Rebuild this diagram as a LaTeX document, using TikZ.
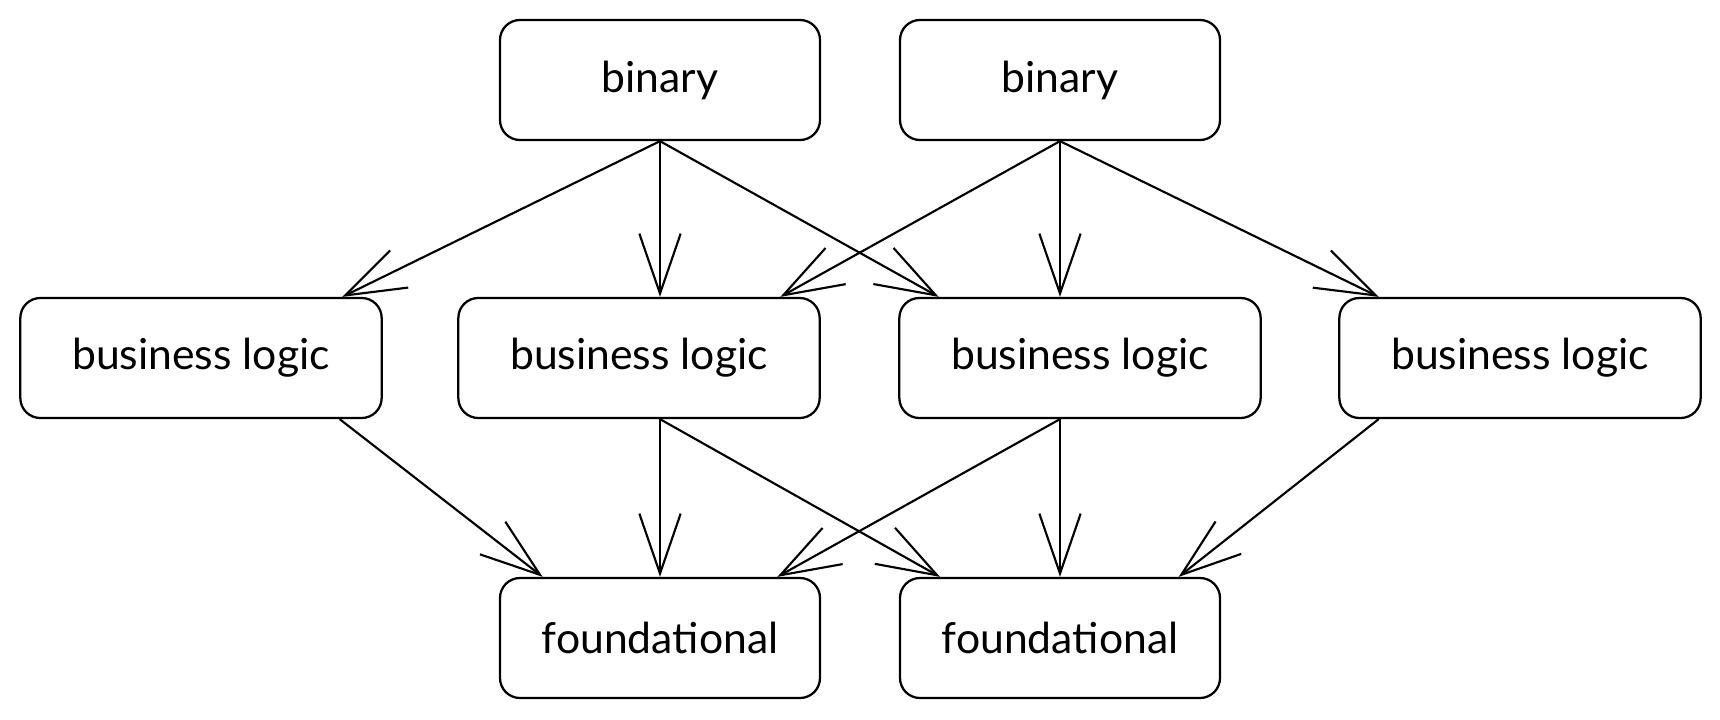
\documentclass[tikz,border=0pt]{standalone}
\usepackage{fontspec}
\setmainfont{Lato}
\usetikzlibrary{arrows.meta}

\tikzset{
  blk/.style={draw, line width=1.7pt, rounded corners=15pt, minimum width=240pt,
    minimum height=90pt, inner sep=0pt, font=\fontsize{32}{36}\selectfont},
  wide/.style={minimum width=271pt},
  lnk/.style={line width=1.6pt, -{Straight Barb[length=45pt,width=31pt]}}
}

\begin{document}
\begin{tikzpicture}[x=0.75pt,y=0.75pt,yscale=-1,xscale=1]
\useasboundingbox (0,0) rectangle (1720,720);

% Top row
\node[blk] (bin1) at (660,80) {binary};
\node[blk] (bin2) at (1060,80) {binary};

% Middle row
\node[blk,wide] (bl1) at (201,358) {business logic};
\node[blk,wide] (bl2) at (639,358) {business logic};
\node[blk,wide] (bl3) at (1080,358) {business logic};
\node[blk,wide] (bl4) at (1520,358) {business logic};

% Bottom row
\node[blk] (fnd1) at (660,638) {foundational};
\node[blk] (fnd2) at (1060,638) {foundational};

% binary -> business logic
\draw[lnk] (bin1.south) -- ([xshift=106pt]bl1.north);
\draw[lnk] (bin1.south) -- (bin1.south |- bl2.north);
\draw[lnk] (bin1.south) -- ([xshift=-106pt]bl3.north);
\draw[lnk] (bin2.south) -- ([xshift=106pt]bl2.north);
\draw[lnk] (bin2.south) -- (bin2.south |- bl3.north);
\draw[lnk] (bin2.south) -- ([xshift=-106pt]bl4.north);

% business logic -> foundational
\draw[lnk] ([xshift=104pt]bl1.south) -- ([xshift=-88pt]fnd1.north);
\draw[lnk] (bl2.south -| fnd1.north) -- (fnd1.north);
\draw[lnk] (bl2.south -| fnd1.north) -- ([xshift=-90pt]fnd2.north);
\draw[lnk] (bl3.south -| fnd2.north) -- ([xshift=88pt]fnd1.north);
\draw[lnk] (bl3.south -| fnd2.north) -- (fnd2.north);
\draw[lnk] ([xshift=-106pt]bl4.south) -- ([xshift=89pt]fnd2.north);

\end{tikzpicture}
\end{document}
